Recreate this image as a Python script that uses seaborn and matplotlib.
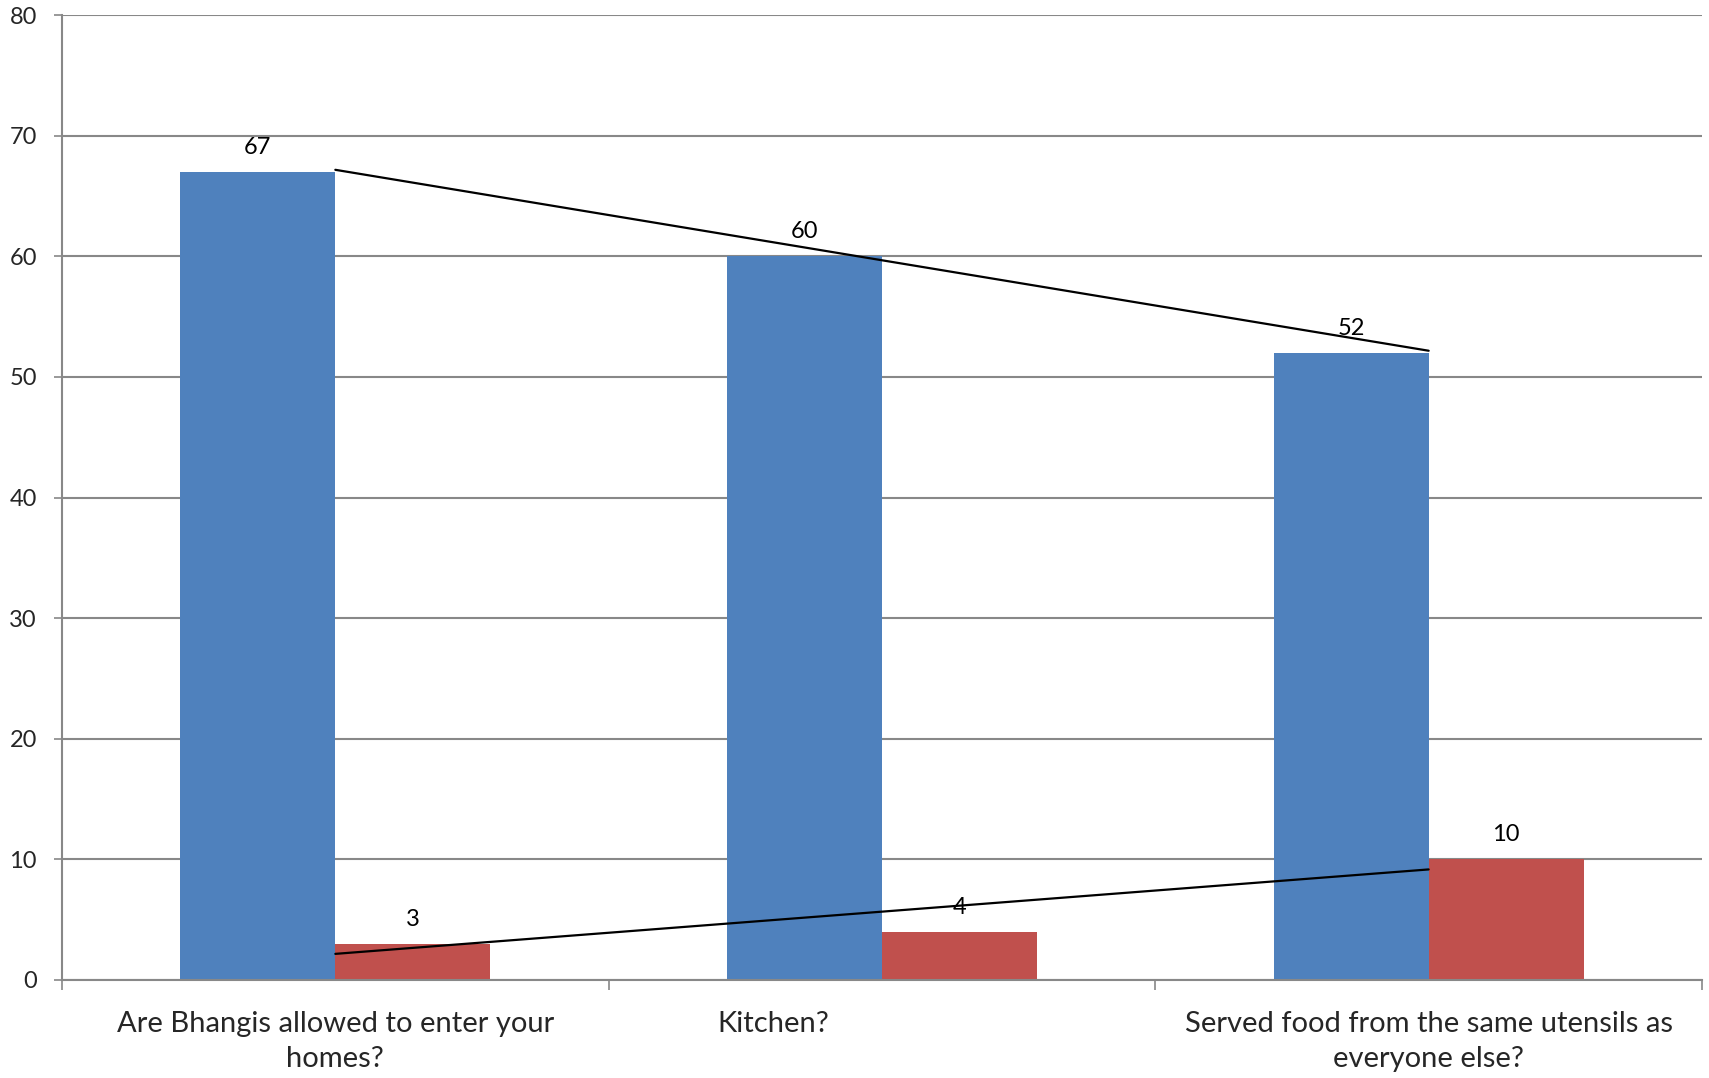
import matplotlib
matplotlib.use("Agg")

import matplotlib.pyplot as plt
import matplotlib.transforms as mtransforms
import numpy as np
import pandas as pd
import seaborn as sns


# -------------------------------------------------------------------
# Data
# -------------------------------------------------------------------

categories = [
    "Are Bhangis allowed to enter your\nhomes?",
    "Kitchen?",
    "Served food from the same utensils as\neveryone else?",
]
series_names = ["Series 1", "Series 2"]
series_1_values = [67, 60, 52]
series_2_values = [3, 4, 10]
y_ticks = [0, 10, 20, 30, 40, 50, 60, 70, 80]

BLUE = "#4F81BD"
RED = "#C0504D"
GRID = "#888888"


def build_frame() -> pd.DataFrame:
    """Long-form table for seaborn."""
    rows = []
    for name, values in zip(series_names, [series_1_values, series_2_values]):
        for cat, val in zip(categories, values):
            rows.append({"category": cat, "series": name, "value": val})
    return pd.DataFrame(rows)


def main() -> None:
    sns.set_style("white")
    plt.rcParams["font.family"] = ["Lato", "DejaVu Sans"]

    df = build_frame()

    fig, ax = plt.subplots(figsize=(17.09, 10.78), dpi=100)
    fig.subplots_adjust(left=62 / 1709, right=1702 / 1709,
                        top=1 - 15 / 1078, bottom=1 - 980 / 1078)

    sns.barplot(
        data=df,
        x="category",
        y="value",
        hue="series",
        palette=[BLUE, RED],
        width=0.567,
        gap=0,
        saturation=1,
        linewidth=0,
        legend=False,
        ax=ax,
        zorder=2,
    )

    for container in ax.containers:
        ax.bar_label(container, padding=10, fontsize=17, color="black")

    # linear trendlines through each series
    xs = np.arange(len(categories))
    for values in [series_1_values, series_2_values]:
        slope, intercept = np.polyfit(xs, values, 1)
        ax.plot([xs[0], xs[-1]], [intercept, slope * xs[-1] + intercept],
                color="black", lw=1.6, zorder=3)

    ax.set_ylim(0, 80)
    ax.set_xlim(-0.5, len(categories) - 0.5)
    ax.set_yticks(y_ticks)
    ax.set_xlabel("")
    ax.set_ylabel("")

    ax.yaxis.grid(True, color=GRID, lw=1.5, zorder=0)
    ax.set_axisbelow(True)
    for side in ["top", "right"]:
        ax.spines[side].set_visible(False)
    for side in ["left", "bottom"]:
        ax.spines[side].set_color(GRID)
        ax.spines[side].set_linewidth(1.5)

    ax.tick_params(axis="y", length=6, width=1.2, color=GRID,
                   pad=12, labelsize=17, left=True)
    ax.tick_params(axis="x", which="major", length=0, pad=22, labelsize=21)
    ax.set_xticks(np.arange(-0.5, len(categories)), minor=True)
    ax.tick_params(axis="x", which="minor", length=7, width=1.2,
                   color=GRID, bottom=True)

    labels = ax.get_xticklabels()
    for lbl in labels:
        lbl.set_linespacing(1.45)

    # the middle label sits left of its category in the original
    offset = mtransforms.ScaledTranslation(-1.09, 0, fig.dpi_scale_trans)
    labels[1].set_transform(labels[1].get_transform() + offset)

    fig.savefig("out.png", dpi=100)
    plt.close(fig)


if __name__ == "__main__":
    main()
